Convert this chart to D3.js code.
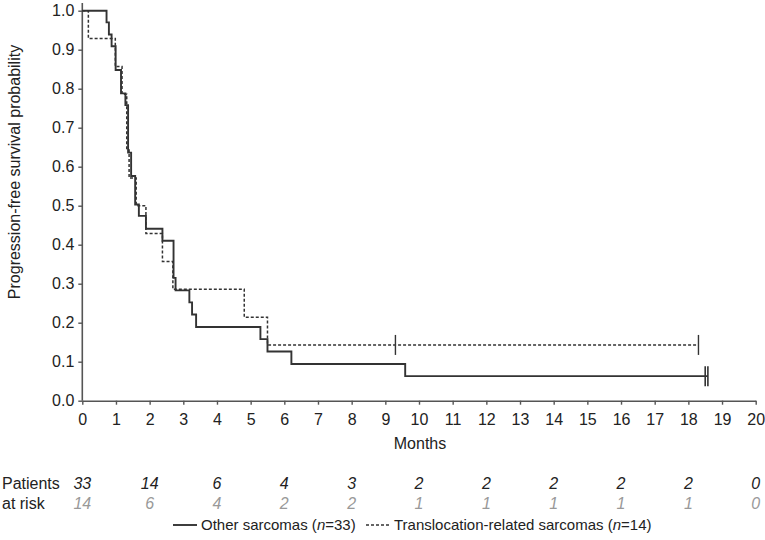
<!DOCTYPE html>
<html>
<head>
<meta charset="utf-8">
<script src="https://cdn.jsdelivr.net/npm/d3@7"></script>
<style>
  body { margin: 0; background: #fff; }
  svg { display: block; font-family: "Liberation Sans", Arial, Helvetica, sans-serif; }
</style>
</head>
<body>
<svg id="chart" width="765" height="540"></svg>
<script>
// ---- Data ----
// Other sarcomas (n=33): step times (months) and survival after each step
const otherTimes = [0, 0.72, 0.79, 0.87, 0.99, 1.15, 1.28, 1.36, 1.45, 1.57, 1.68, 1.89, 2.38, 2.71, 2.77, 3.18, 3.26, 3.38, 5.29, 5.50, 6.21, 9.59];
const otherSurv  = [1.0, 0.970, 0.939, 0.909, 0.848, 0.788, 0.758, 0.636, 0.576, 0.503, 0.474, 0.441, 0.410, 0.315, 0.283, 0.252, 0.221, 0.189, 0.158, 0.126, 0.094, 0.063];
const otherEnd = 18.58;
const otherCensor = [18.5, 18.58];

// Translocation-related sarcomas (n=14)
const transTimes = [0, 0.18, 0.98, 1.18, 1.32, 1.39, 1.60, 1.89, 2.38, 2.69, 4.81, 5.50];
const transSurv  = [1.0, 0.929, 0.857, 0.786, 0.643, 0.571, 0.500, 0.429, 0.357, 0.286, 0.214, 0.143];
const transEnd = 18.3;
const transCensor = [9.3, 18.3];

// Patients at risk
const riskMonths = [0, 2, 4, 6, 8, 10, 12, 14, 16, 18, 20];
const riskOther  = [33, 14, 6, 4, 3, 2, 2, 2, 2, 2, 0];
const riskTrans  = [14, 6, 4, 2, 2, 1, 1, 1, 1, 1, 0];

const xTicks = d3.range(0, 21, 1);
const yTicks = d3.range(0, 11, 1).map(d => d / 10);

// ---- Layout ----
const svg = d3.select("#chart");
const x = d3.scaleLinear().domain([0, 20]).range([82.3, 755.7]);
const y = d3.scaleLinear().domain([0, 1]).range([400.7, 10.7]);
const fs = 16;
const legFs = 15;
const axisColor = "#555";
const lineColor = "#333";

// Y axis
const yAxis = svg.append("g").attr("transform", `translate(${x(0)},0)`)
  .call(d3.axisLeft(y).tickValues(yTicks).tickFormat(d3.format(".1f")).tickSize(4).tickSizeOuter(0));
yAxis.select(".domain").attr("d", `M0,${y(0)}V3`);
// X axis
const xAxis = svg.append("g").attr("transform", `translate(0,${y(0)})`)
  .call(d3.axisBottom(x).tickValues(xTicks).tickFormat(d3.format("d")).tickSize(4).tickSizeOuter(0));

[yAxis, xAxis].forEach(g => {
  g.selectAll(".domain").attr("stroke", axisColor).attr("stroke-width", 1.6);
  g.selectAll(".tick line").attr("stroke", axisColor).attr("stroke-width", 1.4);
  g.selectAll(".tick text").attr("fill", "#222").attr("font-size", fs).attr("font-family", null);
});
yAxis.selectAll(".tick text").attr("x", -8);
xAxis.selectAll(".tick text").attr("y", 13);

// Axis titles
svg.append("text")
  .attr("transform", `translate(20,172) rotate(-90)`)
  .attr("text-anchor", "middle").attr("font-size", fs).attr("fill", "#222")
  .text("Progression-free survival probability");
svg.append("text").attr("x", 420).attr("y", 449)
  .attr("text-anchor", "middle").attr("font-size", fs).attr("fill", "#222")
  .text("Months");

// ---- KM curves ----
function stepPath(times, surv, end) {
  const pts = [];
  for (let i = 0; i < times.length; i++) {
    if (i > 0) pts.push([times[i], surv[i - 1]]);
    pts.push([times[i], surv[i]]);
  }
  pts.push([end, surv[surv.length - 1]]);
  return d3.line().x(d => x(d[0])).y(d => y(d[1]))(pts);
}

svg.append("path")
  .attr("d", stepPath(transTimes, transSurv, transEnd))
  .attr("fill", "none").attr("stroke", lineColor).attr("stroke-width", 1.5)
  .attr("stroke-dasharray", "3,2");

svg.append("path")
  .attr("d", stepPath(otherTimes, otherSurv, otherEnd))
  .attr("fill", "none").attr("stroke", lineColor).attr("stroke-width", 1.9);

function survAt(times, surv, t) {
  let s = surv[0];
  for (let i = 0; i < times.length; i++) if (times[i] <= t) s = surv[i];
  return s;
}
svg.selectAll(".censorT").data(transCensor).enter().append("line")
  .attr("x1", d => x(d)).attr("x2", d => x(d))
  .attr("y1", d => y(survAt(transTimes, transSurv, d)) - 10)
  .attr("y2", d => y(survAt(transTimes, transSurv, d)) + 10)
  .attr("stroke", lineColor).attr("stroke-width", 1.4);
svg.selectAll(".censorO").data(otherCensor).enter().append("line")
  .attr("x1", d => x(d)).attr("x2", d => x(d))
  .attr("y1", d => y(survAt(otherTimes, otherSurv, d)) - 10)
  .attr("y2", d => y(survAt(otherTimes, otherSurv, d)) + 10)
  .attr("stroke", lineColor).attr("stroke-width", 1.6);

// ---- Patients at risk ----
svg.append("text").attr("x", 2).attr("y", 489).attr("font-size", fs).attr("fill", "#222").text("Patients");
svg.append("text").attr("x", 2).attr("y", 509).attr("font-size", fs).attr("fill", "#222").text("at risk");
svg.selectAll(".r1").data(riskMonths).enter().append("text")
  .attr("x", d => x(d)).attr("y", 489).attr("text-anchor", "middle")
  .attr("font-size", fs).attr("font-style", "italic").attr("fill", "#222")
  .text((d, i) => riskOther[i]);
svg.selectAll(".r2").data(riskMonths).enter().append("text")
  .attr("x", d => x(d)).attr("y", 509).attr("text-anchor", "middle")
  .attr("font-size", fs).attr("font-style", "italic").attr("fill", "#999")
  .text((d, i) => riskTrans[i]);

// ---- Legend ----
const legY = 530;
const leg = svg.append("g");
leg.append("line").attr("x1", 173).attr("x2", 197).attr("y1", legY - 5).attr("y2", legY - 5)
  .attr("stroke", lineColor).attr("stroke-width", 1.9);
const t1 = leg.append("text").attr("x", 201).attr("y", legY).attr("font-size", legFs).attr("fill", "#222");
t1.append("tspan").text("Other sarcomas (");
t1.append("tspan").attr("font-style", "italic").text("n");
t1.append("tspan").text("=33)");
leg.append("line").attr("x1", 366).attr("x2", 390).attr("y1", legY - 5).attr("y2", legY - 5)
  .attr("stroke", lineColor).attr("stroke-width", 1.5).attr("stroke-dasharray", "3,2");
const t2 = leg.append("text").attr("x", 394).attr("y", legY).attr("font-size", legFs).attr("fill", "#222");
t2.append("tspan").text("Translocation-related sarcomas (");
t2.append("tspan").attr("font-style", "italic").text("n");
t2.append("tspan").text("=14)");
</script>
</body>
</html>
